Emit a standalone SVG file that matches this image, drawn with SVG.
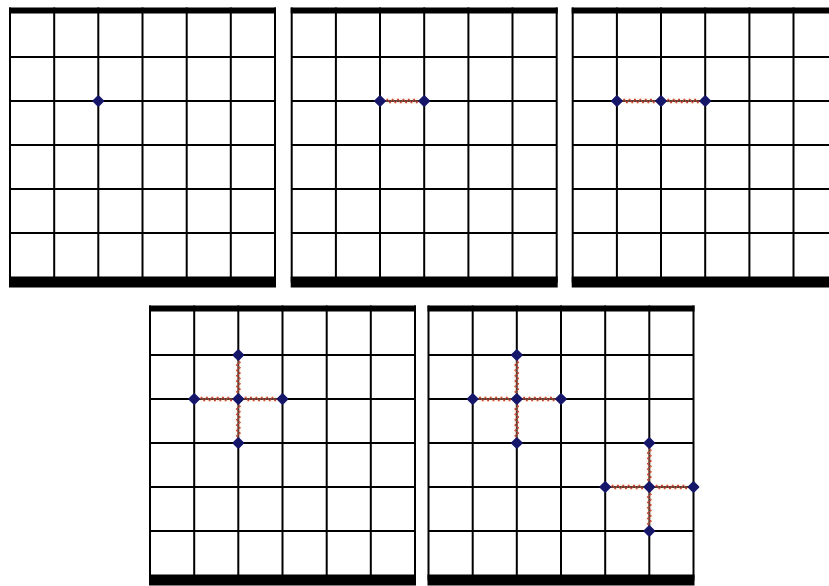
<svg xmlns="http://www.w3.org/2000/svg" xmlns:xlink="http://www.w3.org/1999/xlink" width="829" height="586" viewBox="0 0 829 586">
  <style>
    .grid { stroke: #000; stroke-width: 2; fill: none; }
    .bar { fill: #000; }
    .spring { fill: none; stroke: #c8382a; stroke-width: 1; stroke-linejoin: miter; }
    .halo { fill: none; stroke: #f8e0c4; stroke-width: 6; opacity: 0.3; }
    .node { fill: #16166a; stroke: #16166a; stroke-width: 2; stroke-linejoin: round; }
  </style>
  <defs>
    <g id="board">
      <rect x="0" y="0" width="267" height="280" fill="#fff"/>
      <path class="grid" d="M1,0V275 M45.2,0V275 M89.3,0V275 M133.5,0V275 M177.7,0V275 M221.8,0V275 M266,0V275
                            M0,49.5H267 M0,93.5H267 M0,137.5H267 M0,181.5H267 M0,225.5H267"/>
      <rect class="bar" x="0" y="0" width="267" height="6"/>
      <rect class="bar" x="0" y="269" width="267" height="11"/>
    </g>
    <g id="spring">
      <path class="halo" d="M6,0H38.2"/>
      <path class="spring" d="M0,0H6 l1.34,-2.2 l2.68,4.4 l1.34,-2.2 l1.34,-2.2 l2.68,4.4 l1.34,-2.2 l1.34,-2.2 l2.68,4.4 l1.34,-2.2 l1.34,-2.2 l2.68,4.4 l1.34,-2.2 l1.34,-2.2 l2.68,4.4 l1.34,-2.2 l1.34,-2.2 l2.68,4.4 l1.34,-2.2 H44.2"/>
    </g>
    <polygon id="dot" class="node" points="0,-4.8 4.8,0 0,4.8 -4.8,0"/>
  </defs>
  <rect width="829" height="586" fill="#fff"/>

  <g id="panel1" transform="translate(9,7.5)">
    <use xlink:href="#board"/>
    <g id="p1-connectors"></g>
    <g id="p1-n1"><use xlink:href="#dot" x="89.3" y="93.5"/></g>
  </g>

  <g id="panel2" transform="translate(290.7,7.5)">
    <use xlink:href="#board"/>
    <g id="p2-connectors">
      <use xlink:href="#spring" transform="translate(89.3,93.5)"/>
    </g>
    <g id="p2-n1"><use xlink:href="#dot" x="89.3" y="93.5"/></g>
    <g id="p2-n2"><use xlink:href="#dot" x="133.5" y="93.5"/></g>
  </g>

  <g id="panel3" transform="translate(571.7,7.5)">
    <use xlink:href="#board"/>
    <g id="p3-connectors">
      <use xlink:href="#spring" transform="translate(45.2,93.5)"/>
      <use xlink:href="#spring" transform="translate(89.3,93.5)"/>
    </g>
    <g id="p3-n1"><use xlink:href="#dot" x="45.2" y="93.5"/></g>
    <g id="p3-n2"><use xlink:href="#dot" x="89.3" y="93.5"/></g>
    <g id="p3-n3"><use xlink:href="#dot" x="133.5" y="93.5"/></g>
  </g>

  <g id="panel4" transform="translate(149,305.5)">
    <use xlink:href="#board"/>
    <g id="p4-connectors">
      <use xlink:href="#spring" transform="translate(45.2,93.5)"/>
      <use xlink:href="#spring" transform="translate(89.3,93.5)"/>
      <use xlink:href="#spring" transform="translate(89.3,49.5) rotate(90)"/>
      <use xlink:href="#spring" transform="translate(89.3,93.5) rotate(90)"/>
    </g>
    <g id="p4-n1"><use xlink:href="#dot" x="89.3" y="49.5"/></g>
    <g id="p4-n2"><use xlink:href="#dot" x="45.2" y="93.5"/></g>
    <g id="p4-n3"><use xlink:href="#dot" x="89.3" y="93.5"/></g>
    <g id="p4-n4"><use xlink:href="#dot" x="133.5" y="93.5"/></g>
    <g id="p4-n5"><use xlink:href="#dot" x="89.3" y="137.5"/></g>
  </g>

  <g id="panel5" transform="translate(427.5,305.5)">
    <use xlink:href="#board"/>
    <g id="p5-connectors">
      <use xlink:href="#spring" transform="translate(45.2,93.5)"/>
      <use xlink:href="#spring" transform="translate(89.3,93.5)"/>
      <use xlink:href="#spring" transform="translate(89.3,49.5) rotate(90)"/>
      <use xlink:href="#spring" transform="translate(89.3,93.5) rotate(90)"/>
      <use xlink:href="#spring" transform="translate(177.7,181.5)"/>
      <use xlink:href="#spring" transform="translate(221.8,181.5)"/>
      <use xlink:href="#spring" transform="translate(221.8,137.5) rotate(90)"/>
      <use xlink:href="#spring" transform="translate(221.8,181.5) rotate(90)"/>
    </g>
    <g id="p5-n1"><use xlink:href="#dot" x="89.3" y="49.5"/></g>
    <g id="p5-n2"><use xlink:href="#dot" x="45.2" y="93.5"/></g>
    <g id="p5-n3"><use xlink:href="#dot" x="89.3" y="93.5"/></g>
    <g id="p5-n4"><use xlink:href="#dot" x="133.5" y="93.5"/></g>
    <g id="p5-n5"><use xlink:href="#dot" x="89.3" y="137.5"/></g>
    <g id="p5-n6"><use xlink:href="#dot" x="221.8" y="137.5"/></g>
    <g id="p5-n7"><use xlink:href="#dot" x="177.7" y="181.5"/></g>
    <g id="p5-n8"><use xlink:href="#dot" x="221.8" y="181.5"/></g>
    <g id="p5-n9"><use xlink:href="#dot" x="266" y="181.5"/></g>
    <g id="p5-n10"><use xlink:href="#dot" x="221.8" y="225.5"/></g>
  </g>
</svg>
